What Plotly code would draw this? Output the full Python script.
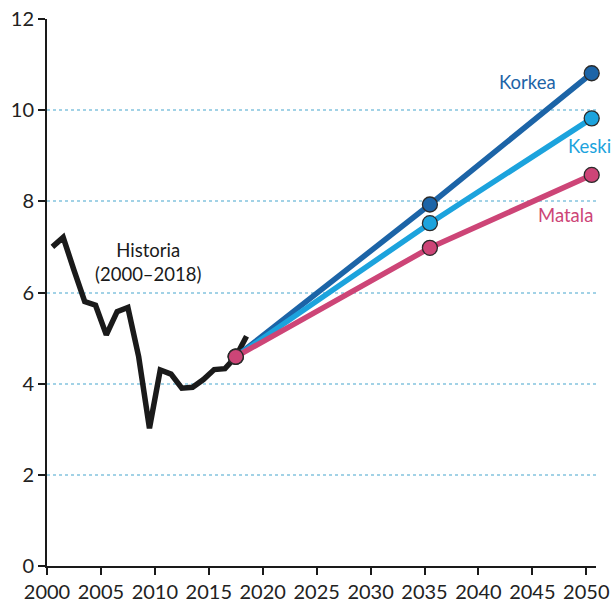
import plotly.graph_objects as go

# --- Data ---
hist_years = list(range(2000, 2019))
hist_values = [7.00, 7.21, 6.49, 5.80, 5.72, 5.07, 5.58, 5.67, 4.59, 3.02,
               4.30, 4.21, 3.90, 3.92, 4.09, 4.31, 4.33, 4.59, 5.04]

proj_years = [2017, 2035, 2050]
korkea = [4.59, 7.93, 10.81]
keski = [4.59, 7.52, 9.82]
matala = [4.59, 6.98, 8.58]

x_ticks = list(range(2000, 2051, 5))
y_ticks = list(range(0, 13, 2))

MID = 0.5  # values plotted at mid-year

C_KORKEA = "#1c64a7"
C_KESKI = "#1ca3dd"
C_MATALA = "#cd4577"
FONT = "Lato, 'Open Sans', sans-serif"

fig = go.Figure()

fig.add_trace(go.Scatter(
    x=[y + MID for y in hist_years], y=hist_values, mode="lines",
    line=dict(color="#1a1a1a", width=5.5), showlegend=False, hoverinfo="skip"))

for vals, col, name in [(korkea, C_KORKEA, "Korkea"), (keski, C_KESKI, "Keski"), (matala, C_MATALA, "Matala")]:
    fig.add_trace(go.Scatter(
        x=[y + MID for y in proj_years], y=vals, mode="lines+markers", name=name,
        line=dict(color=col, width=5.5),
        marker=dict(size=15, color=col, line=dict(color="#2a2a2a", width=1.3)),
        showlegend=False, cliponaxis=False))

annots = [
    dict(text="Historia<br>(2000–2018)", x=2009.43, y=6.67, color="#1a1a1a"),
    dict(text="Korkea", x=2044.56, y=10.61, color=C_KORKEA),
    dict(text="Keski", x=2050.34, y=9.21, color=C_KESKI),
    dict(text="Matala", x=2048.1, y=7.71, color=C_MATALA),
]
for a in annots:
    fig.add_annotation(text=a["text"], x=a["x"], y=a["y"], xref="x", yref="y",
                       showarrow=False, font=dict(size=18.5, color=a["color"], family=FONT),
                       xanchor="center", yanchor="middle")

fig.update_layout(
    width=614, height=602,
    margin=dict(l=47, r=18, t=19, b=36),
    plot_bgcolor="white", paper_bgcolor="white",
    font=dict(family=FONT, size=20, color="#222222"),
)
fig.update_xaxes(range=[2000, 2050.9], tickvals=x_ticks, showgrid=False, zeroline=False,
                 showline=True, linecolor="#1a1a1a", linewidth=2, automargin=False,
                 ticklabeloverflow="allow",
                 ticks="outside", ticklen=7, tickwidth=2, tickcolor="#1a1a1a")
fig.update_yaxes(range=[0, 12], tickvals=y_ticks, showgrid=True, gridcolor="#a2d2e6",
                 griddash="dot", gridwidth=2, zeroline=False, automargin=False,
                 ticklabeloverflow="allow",
                 showline=True, linecolor="#1a1a1a", linewidth=2,
                 ticks="outside", ticklen=7, tickwidth=2, tickcolor="#1a1a1a")

fig.write_html("out.html", config={"displayModeBar": False},
               post_script="document.body.style.margin='0';document.body.style.overflow='hidden';")
